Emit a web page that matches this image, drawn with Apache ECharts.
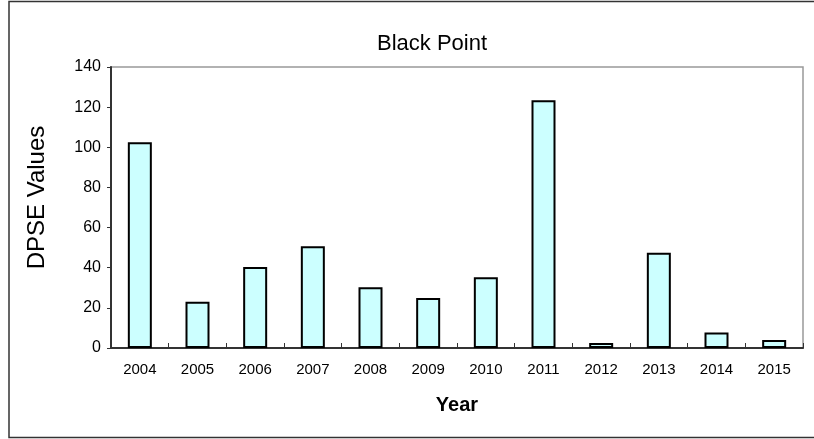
<!DOCTYPE html>
<html>
<head>
<meta charset="utf-8">
<script src="https://cdn.jsdelivr.net/npm/echarts@6/dist/echarts.min.js"></script>
<style>
  html, body { margin: 0; padding: 0; background: #fff; }
  #chart { width: 814px; height: 439px; }
</style>
</head>
<body>
<div id="chart"></div>
<script>
// Yearly DPSE values at Black Point
const years = ['2004', '2005', '2006', '2007', '2008', '2009', '2010', '2011', '2012', '2013', '2014', '2015'];
const dpseValues = [102.5, 23, 40.4, 50.7, 30.3, 24.9, 35.3, 123.4, 2.5, 47.4, 7.7, 4];
const yTicks = { min: 0, max: 140, step: 20 };

const FONT = '"Liberation Sans", Arial, sans-serif';

const chart = echarts.init(document.getElementById('chart'), null, { renderer: 'canvas' });

chart.setOption({
  animation: false,
  backgroundColor: '#ffffff',
  title: {
    text: 'Black Point',
    left: 372,
    top: 28,
    textStyle: { fontFamily: FONT, fontSize: 22, fontWeight: 'normal', color: '#000' }
  },
  graphic: [{
    type: 'rect',
    silent: true,
    shape: { x: 9, y: 1.5, width: 812, height: 436 },
    style: { fill: 'none', stroke: '#333', lineWidth: 1.5 }
  }],
  grid: {
    left: 111, right: 11, top: 67, bottom: 91,
    show: true,
    borderColor: '#999',
    borderWidth: 1.5,
    backgroundColor: 'transparent'
  },
  xAxis: {
    type: 'category',
    data: years,
    name: 'Year',
    nameLocation: 'middle',
    nameGap: 47,
    nameTextStyle: { fontFamily: FONT, fontSize: 20, fontWeight: 'bold', color: '#000' },
    axisLine: { lineStyle: { color: '#333', width: 2 } },
    axisTick: { show: true, inside: true, length: 5, alignWithLabel: false, lineStyle: { color: '#333', width: 1 } },
    axisLabel: { fontFamily: FONT, fontSize: 15, color: '#000', margin: 14 },
    splitLine: { show: false }
  },
  yAxis: {
    type: 'value',
    min: yTicks.min,
    max: yTicks.max,
    interval: yTicks.step,
    name: 'DPSE Values',
    nameLocation: 'middle',
    nameGap: 62,
    nameTextStyle: { fontFamily: FONT, fontSize: 24, color: '#000', padding: [0, 0, 0, 20] },
    axisLine: { show: true, lineStyle: { color: '#333', width: 2 } },
    axisTick: { show: true, inside: false, length: 4, lineStyle: { color: '#333', width: 1 } },
    axisLabel: { fontFamily: FONT, fontSize: 16, color: '#000', margin: 10 },
    splitLine: { show: false }
  },
  series: [{
    type: 'bar',
    data: dpseValues,
    barWidth: 24,
    itemStyle: { color: '#CCFFFF', borderColor: '#000', borderWidth: 2 }
  }]
});
</script>
</body>
</html>
